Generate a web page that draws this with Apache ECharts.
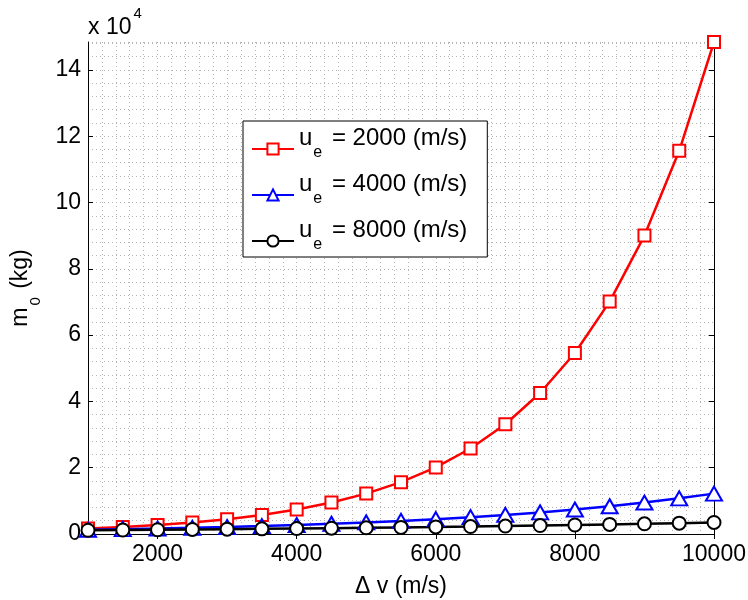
<!DOCTYPE html>
<html>
<head>
<meta charset="utf-8">
<script src="https://cdn.jsdelivr.net/npm/echarts@6/dist/echarts.min.js"></script>
<style>html,body{margin:0;padding:0;background:#fff;}#chart{width:748px;height:600px;}</style>
</head>
<body>
<div id="chart"></div>
<script>
// Delta v (m/s)
var deltaV = [1000,1500,2000,2500,3000,3500,4000,4500,5000,5500,6000,6500,7000,7500,8000,8500,9000,9500,10000];
// m0 (kg) for u_e = 2000 m/s
var m0Ue2000 = [1649,2117,2718,3490,4482,5755,7389,9488,12182,15643,20086,25790,33115,42521,54598,70105,90017,115584,148413];
// m0 (kg) for u_e = 4000 m/s
var m0Ue4000 = [1284,1455,1649,1868,2117,2399,2718,3080,3490,3955,4482,5078,5755,6521,7389,8373,9488,10751,12182];
// m0 (kg) for u_e = 8000 m/s
var m0Ue8000 = [1133,1206,1284,1366,1455,1549,1649,1755,1868,1989,2117,2254,2399,2554,2718,2894,3080,3279,3490];
var ueLabels = ['2000','4000','8000'];
var xTicks = [2000,4000,6000,8000,10000];
var yTicks = [0,20000,40000,60000,80000,100000,120000,140000];

var FONT = 'Liberation Sans';
function pairs(ys){ return deltaV.map(function(x,i){ return [x, ys[i]]; }); }
var chart = echarts.init(document.getElementById('chart'), null, {renderer:'canvas'});
var gridStyle = {show:true, lineStyle:{color:'#b4b4b4', type:[1,3], width:1}};
var xMin = deltaV[0], xMax = deltaV[deltaV.length-1];
var yMax = m0Ue2000[m0Ue2000.length-1];
var axisLineStyle = {show:true, lineStyle:{color:'#000', width:1}};

var option = {
  animation:false,
  backgroundColor:'#fff',
  textStyle:{fontFamily:FONT},
  grid:{left:88, right:34, top:42, bottom:66, containLabel:false, outerBoundsMode:'none'},
  graphic:[{
    type:'text', left:88, top:6,
    style:{
      text:'{a|x 10}{b|4}',
      rich:{
        a:{fontFamily:FONT, fontSize:23, lineHeight:23, fill:'#000', verticalAlign:'bottom'},
        b:{fontFamily:FONT, fontSize:15, lineHeight:15, fill:'#000', verticalAlign:'bottom', padding:[0,0,18,2]}
      }
    }
  }],
  xAxis:[{
    type:'value', min:xMin, max:xMax, interval:200,
    name:'\u0394 v (m/s)', nameLocation:'middle', nameGap:41,
    nameTextStyle:{fontFamily:FONT, fontSize:23, color:'#000'},
    axisLine:axisLineStyle,
    axisTick:{show:true, inside:true, length:5, customValues:xTicks, lineStyle:{color:'#000'}},
    axisLabel:{show:true, customValues:xTicks, fontFamily:FONT, fontSize:23, color:'#000', margin:9,
      formatter:function(v){ return String(v); }},
    splitLine:{show:false}
  },{
    type:'value', position:'top', min:xMin, max:xMax, interval:200,
    axisLine:axisLineStyle,
    axisTick:{show:true, inside:true, length:5, customValues:xTicks, lineStyle:{color:'#000'}},
    axisLabel:{show:false}, splitLine:{show:false}
  },{
    type:'value', position:'bottom', min:xMin, max:xMax, interval:200,
    axisLine:{show:false}, axisTick:{show:false}, axisLabel:{show:false},
    splitLine:gridStyle, z:0
  }],
  yAxis:[{
    type:'value', min:0, max:yMax, interval:4000,
    name:'{m|m}{s|0}{m| (kg)}', nameLocation:'middle', nameGap:45, nameRotate:90,
    nameTextStyle:{
      rich:{
        m:{fontFamily:FONT, fontSize:23, lineHeight:23, color:'#000', verticalAlign:'bottom', padding:[0,0,11,0]},
        s:{fontFamily:FONT, fontSize:15, lineHeight:15, color:'#000', verticalAlign:'bottom', padding:[0,2,0,2]}
      }
    },
    axisLine:axisLineStyle,
    axisTick:{show:true, inside:true, length:5, customValues:yTicks, lineStyle:{color:'#000'}},
    axisLabel:{show:true, customValues:yTicks, fontFamily:FONT, fontSize:23, color:'#000', margin:7,
      formatter:function(v){ return String(Math.round(v/10000)); }},
    splitLine:{show:false}
  },{
    type:'value', position:'right', min:0, max:yMax, interval:4000,
    axisLine:axisLineStyle,
    axisTick:{show:true, inside:true, length:5, customValues:yTicks, lineStyle:{color:'#000'}},
    axisLabel:{show:false}, splitLine:{show:false}
  },{
    type:'value', position:'left', min:0, max:yMax, interval:4000,
    axisLine:{show:false}, axisTick:{show:false}, axisLabel:{show:false},
    splitLine:gridStyle, z:0
  }],
  legend:{
    left:243, top:121, orient:'vertical',
    backgroundColor:'#fff', borderColor:'#000', borderWidth:1,
    padding:[5,20,4,8], itemGap:11, itemWidth:42, itemHeight:14,
    formatter:function(name){ return '{u|u}{e|e}{t| = ' + name + ' (m/s)}'; },
    textStyle:{
      padding:[0,0,0,0],
      rich:{
        u:{fontFamily:FONT, fontSize:24, lineHeight:24, color:'#000', verticalAlign:'bottom', padding:[0,0,11,0]},
        e:{fontFamily:FONT, fontSize:16, lineHeight:16, color:'#000', verticalAlign:'bottom', padding:[0,3,0,1]},
        t:{fontFamily:FONT, fontSize:24, lineHeight:24, color:'#000', verticalAlign:'bottom', padding:[0,0,11,0]}
      }
    },
    data:ueLabels
  },
  series:[{
    name:ueLabels[0], type:'line', data:pairs(m0Ue2000),
    symbol:'emptyRect', symbolSize:12,
    lineStyle:{color:'#ff0000', width:2.5}, itemStyle:{color:'#ff0000', borderWidth:2}
  },{
    name:ueLabels[1], type:'line', data:pairs(m0Ue4000),
    symbol:'emptyTriangle', symbolSize:[16,14],
    lineStyle:{color:'#0000ff', width:2.5}, itemStyle:{color:'#0000ff', borderWidth:2}
  },{
    name:ueLabels[2], type:'line', data:pairs(m0Ue8000),
    symbol:'emptyCircle', symbolSize:13,
    lineStyle:{color:'#000000', width:2.5}, itemStyle:{color:'#000000', borderWidth:2}
  }]
};
chart.setOption(option);
</script>
</body>
</html>
